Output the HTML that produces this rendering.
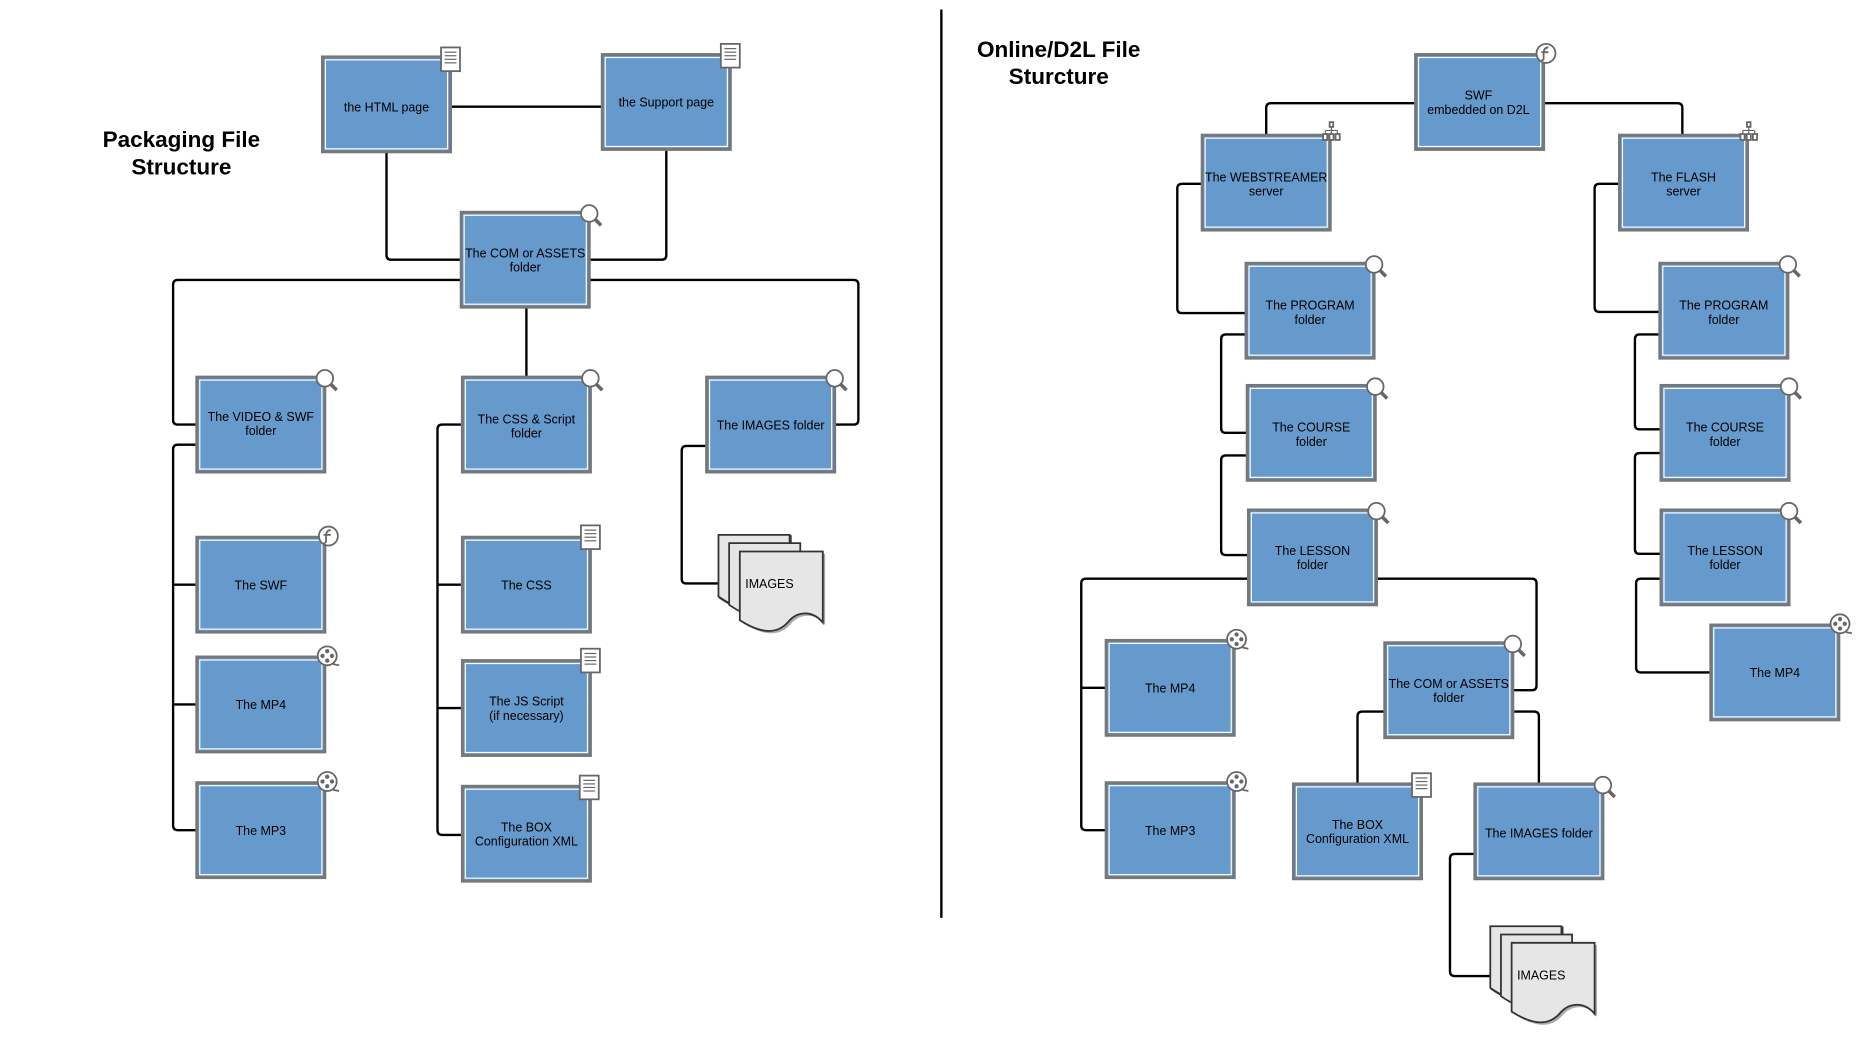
<!DOCTYPE html>
<html><head><meta charset="utf-8"><style>
html,body{margin:0;padding:0;background:#fff;}
svg{display:block;}
.b{fill:#6699cc;stroke:#777;stroke-width:2.5;}
.bi{fill:none;stroke:#fff;stroke-width:1;}
.c{fill:none;stroke:#000;stroke-width:2;stroke-linejoin:round;}
.t{font-family:"Liberation Sans",sans-serif;font-size:10.5px;fill:#000;text-anchor:middle;}
.h{font-family:"Liberation Sans",sans-serif;font-size:19px;font-weight:bold;fill:#000;text-anchor:middle;}
.ic{fill:#fff;stroke:#666;stroke-width:1.5;}
.doc{fill:#e6e6e6;stroke:#333;stroke-width:1.5;}
</style></head><body>
<svg width="1859" height="1046" viewBox="0 0 1568 882" preserveAspectRatio="none" xmlns="http://www.w3.org/2000/svg">
<defs>
<g id="mag"><circle cx="0" cy="0" r="7" class="ic"/><line x1="5" y1="5" x2="10" y2="10" stroke="#666" stroke-width="3"/></g>
<g id="pg"><rect x="-8" y="-10" width="16" height="20" class="ic"/><line x1="-5" y1="-6" x2="5" y2="-6" stroke="#666"/><line x1="-5" y1="-3" x2="5" y2="-3" stroke="#666"/><line x1="-5" y1="0" x2="5" y2="0" stroke="#666"/><line x1="-5" y1="3" x2="5" y2="3" stroke="#666"/></g>
<g id="film"><circle r="8" class="ic"/><circle cx="0" cy="-4" r="1.8" fill="#666"/><circle cx="0" cy="4" r="1.8" fill="#666"/><circle cx="-4" cy="0" r="1.8" fill="#666"/><circle cx="4" cy="0" r="1.8" fill="#666"/><line x1="5" y1="7" x2="10" y2="8" stroke="#666" stroke-width="1.5"/></g>
<g id="fl"><circle r="8" class="ic"/><path d="M2,-5 Q-2,-5 -2,0 L-2,4 Q-2,6 -4,6 M-4,-1 L2,-1" stroke="#666" stroke-width="1.5" fill="none"/></g>
<g id="tree"><rect x="-1.5" y="-9" width="3" height="4" class="ic" stroke-width="1"/><path d="M0,-5 V-2 M-5,-2 H5 M-5,-2 V1 M0,-2 V1 M5,-2 V1" stroke="#666" fill="none"/><rect x="-7" y="1" width="3.5" height="5" class="ic" stroke-width="1"/><rect x="-1.7" y="1" width="3.5" height="5" class="ic" stroke-width="1"/><rect x="3.5" y="1" width="3.5" height="5" class="ic" stroke-width="1"/></g>
<g id="box"><rect x="0" y="0" width="108" height="80" class="b"/><rect x="2.5" y="2.5" width="103" height="75" class="bi"/></g>
<g id="stk">
<path class="doc" d="M0,0 H60 V54 C52,46 42,46 36,54 C30,62 20,66 0,52 Z" transform="translate(1,1)" fill="#999" stroke="#999"/>
<path class="doc" d="M0,0 H60 V54 C52,46 42,46 36,54 C30,62 20,66 0,52 Z"/>
<path class="doc" d="M0,0 H60 V54 C52,46 42,46 36,54 C30,62 20,66 0,52 Z" transform="translate(9,7)"/>
<path d="M0,0 H70 V60 C62,50 50,50 42,58 C34,68 22,72 0,58 Z" transform="translate(20,16)" fill="#aaa"/>
<path class="doc" d="M0,0 H70 V60 C62,50 50,50 42,58 C34,68 22,72 0,58 Z" transform="translate(18,14)"/>
</g>
</defs>

<text class="h" x="153" y="124">Packaging File</text>
<text class="h" x="153" y="147">Structure</text>
<text class="h" x="893" y="48">Online/D2L File</text>
<text class="h" x="893" y="71">Sturcture</text>
<line x1="794" y1="8" x2="794" y2="774" stroke="#000" stroke-width="2"/>

<!-- LEFT connectors -->
<path class="c" d="M380,90 H508"/>
<path class="c" d="M326,128 V215 Q326,219 330,219 H389"/>
<path class="c" d="M562,126 V215 Q562,219 558,219 H498"/>
<path class="c" d="M389,236 H150 Q146,236 146,240 V354 Q146,358 150,358 H166"/>
<path class="c" d="M498,236 H720 Q724,236 724,240 V354 Q724,358 720,358 H704"/>
<path class="c" d="M444,259 V318"/>
<path class="c" d="M166,375 H150 Q146,375 146,379 V696 Q146,700 150,700 H166 M146,493 H166 M146,594 H166"/>
<path class="c" d="M390,358 H373 Q369,358 369,362 V700 Q369,704 373,704 H390 M369,493 H390 M369,597 H390"/>
<path class="c" d="M596,376 H579 Q575,376 575,380 V488 Q575,492 579,492 H606"/>

<!-- RIGHT connectors -->
<path class="c" d="M1194,87 H1072 Q1068,87 1068,91 V114"/>
<path class="c" d="M1302,87 H1415 Q1419,87 1419,91 V114"/>
<path class="c" d="M1014,155 H997 Q993,155 993,159 V260 Q993,264 997,264 H1051"/>
<path class="c" d="M1051,282 H1034 Q1030,282 1030,286 V361 Q1030,365 1034,365 H1052"/>
<path class="c" d="M1052,384 H1034 Q1030,384 1030,388 V464 Q1030,468 1034,468 H1053"/>
<path class="c" d="M1053,488 H916 Q912,488 912,492 V696 Q912,700 916,700 H933 M912,580 H933"/>
<path class="c" d="M1161,488 H1292 Q1296,488 1296,492 V578 Q1296,582 1292,582 H1276"/>
<path class="c" d="M1168,600 H1149 Q1145,600 1145,604 V661"/>
<path class="c" d="M1276,600 H1294 Q1298,600 1298,604 V661"/>
<path class="c" d="M1244,720 H1227 Q1223,720 1223,724 V819 Q1223,823 1227,823 H1257"/>
<path class="c" d="M1366,155 H1349 Q1345,155 1345,159 V259 Q1345,263 1349,263 H1400"/>
<path class="c" d="M1400,282 H1383 Q1379,282 1379,286 V358 Q1379,362 1383,362 H1401"/>
<path class="c" d="M1401,382 H1383 Q1379,382 1379,386 V463 Q1379,467 1383,467 H1401"/>
<path class="c" d="M1401,488 H1384 Q1380,488 1380,492 V563 Q1380,567 1384,567 H1443"/>

<!-- LEFT boxes -->
<use href="#box" x="272" y="48"/><text class="t" x="326" y="94">the HTML page</text><use href="#pg" x="380" y="50"/>
<use href="#box" x="508" y="46"/><text class="t" x="562" y="90">the Support page</text><use href="#pg" x="616" y="47"/>
<use href="#box" x="389" y="179"/><text class="t" x="443" y="217">The COM or ASSETS</text><text class="t" x="443" y="229">folder</text><use href="#mag" x="497" y="180"/>
<use href="#box" x="166" y="318"/><text class="t" x="220" y="355">The VIDEO &amp; SWF</text><text class="t" x="220" y="367">folder</text><use href="#mag" x="274" y="319"/>
<use href="#box" x="390" y="318"/><text class="t" x="444" y="357">The CSS &amp; Script</text><text class="t" x="444" y="369">folder</text><use href="#mag" x="498" y="319"/>
<use href="#box" x="596" y="318"/><text class="t" x="650" y="362">The IMAGES folder</text><use href="#mag" x="704" y="319"/>
<use href="#box" x="166" y="453"/><text class="t" x="220" y="497">The SWF</text><use href="#fl" x="277" y="452"/>
<use href="#box" x="166" y="554"/><text class="t" x="220" y="598">The MP4</text><use href="#film" x="276" y="553"/>
<use href="#box" x="166" y="660"/><text class="t" x="220" y="704">The MP3</text><use href="#film" x="276" y="659"/>
<use href="#box" x="390" y="453"/><text class="t" x="444" y="497">The CSS</text><use href="#pg" x="498" y="453"/>
<use href="#box" x="390" y="557"/><text class="t" x="444" y="595">The JS Script</text><text class="t" x="444" y="607">(if necessary)</text><use href="#pg" x="498" y="557"/>
<use href="#box" x="390" y="663"/><text class="t" x="444" y="701">The BOX</text><text class="t" x="444" y="713">Configuration XML</text><use href="#pg" x="497" y="664"/>
<use href="#stk" x="606" y="451"/><text class="t" x="649" y="496">IMAGES</text>

<!-- RIGHT boxes -->
<use href="#box" x="1194" y="46"/><text class="t" x="1247" y="84">SWF</text><text class="t" x="1247" y="96">embedded on D2L</text><use href="#fl" x="1304" y="45"/>
<use href="#box" x="1014" y="114"/><text class="t" x="1068" y="153">The WEBSTREAMER</text><text class="t" x="1068" y="165">server</text><use href="#tree" x="1123" y="112"/>
<use href="#box" x="1366" y="114"/><text class="t" x="1420" y="153">The FLASH</text><text class="t" x="1420" y="165">server</text><use href="#tree" x="1475" y="112"/>
<use href="#box" x="1051" y="222"/><text class="t" x="1105" y="261">The PROGRAM</text><text class="t" x="1105" y="273">folder</text><use href="#mag" x="1159" y="223"/>
<use href="#box" x="1052" y="325"/><text class="t" x="1106" y="364">The COURSE</text><text class="t" x="1106" y="376">folder</text><use href="#mag" x="1160" y="326"/>
<use href="#box" x="1053" y="430"/><text class="t" x="1107" y="468">The LESSON</text><text class="t" x="1107" y="480">folder</text><use href="#mag" x="1161" y="431"/>
<use href="#box" x="933" y="540"/><text class="t" x="987" y="584">The MP4</text><use href="#film" x="1043" y="539"/>
<use href="#box" x="933" y="660"/><text class="t" x="987" y="704">The MP3</text><use href="#film" x="1043" y="659"/>
<use href="#box" x="1168" y="542"/><text class="t" x="1222" y="580">The COM or ASSETS</text><text class="t" x="1222" y="592">folder</text><use href="#mag" x="1276" y="543"/>
<use href="#box" x="1091" y="661"/><text class="t" x="1145" y="699">The BOX</text><text class="t" x="1145" y="711">Configuration XML</text><use href="#pg" x="1199" y="662"/>
<use href="#box" x="1244" y="661"/><text class="t" x="1298" y="706">The IMAGES folder</text><use href="#mag" x="1352" y="662"/>
<use href="#stk" x="1257" y="781"/><text class="t" x="1300" y="826">IMAGES</text>
<use href="#box" x="1400" y="222"/><text class="t" x="1454" y="261">The PROGRAM</text><text class="t" x="1454" y="273">folder</text><use href="#mag" x="1508" y="223"/>
<use href="#box" x="1401" y="325"/><text class="t" x="1455" y="364">The COURSE</text><text class="t" x="1455" y="376">folder</text><use href="#mag" x="1509" y="326"/>
<use href="#box" x="1401" y="430"/><text class="t" x="1455" y="468">The LESSON</text><text class="t" x="1455" y="480">folder</text><use href="#mag" x="1509" y="431"/>
<use href="#box" x="1443" y="527"/><text class="t" x="1497" y="571">The MP4</text><use href="#film" x="1552" y="526"/>
</svg>
</body></html>
